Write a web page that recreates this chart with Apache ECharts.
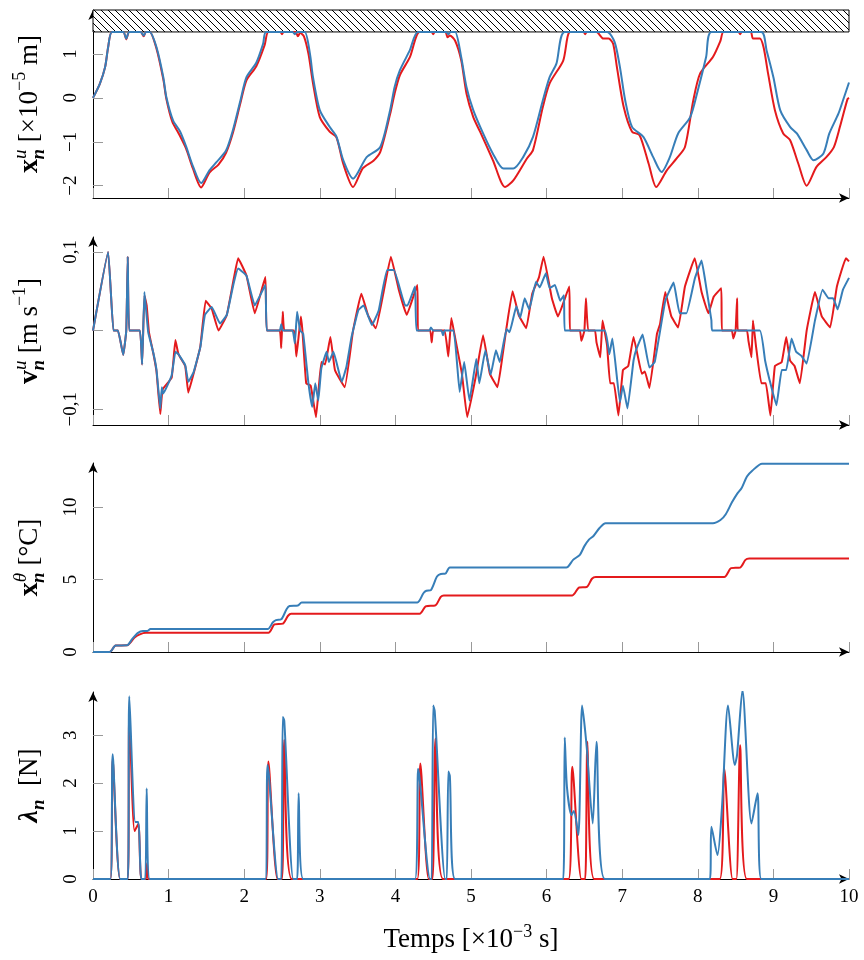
<!DOCTYPE html>
<html><head><meta charset="utf-8">
<script src="https://cdn.jsdelivr.net/npm/echarts@6/dist/echarts.min.js"></script>
<style>html,body{margin:0;padding:0;background:#fff}#c{width:864px;height:960px}</style>
</head><body><div id="c"></div><script>
// ---- data: [time (x1e-3 s), value] ----
const dispBlue = [[0,0],[0.09,0.32],[0.16,0.7],[0.2,1.15],[0.25,1.5],[0.4,1.5],[0.44,1.35],[0.48,1.5],[0.63,1.5],[0.67,1.42],[0.7,1.5],[0.75,1.5],[0.84,1.15],[0.93,0.47],[0.97,0.02],[1.06,-0.52],[1.15,-0.76],[1.23,-1.1],[1.32,-1.55],[1.43,-1.94],[1.54,-1.65],[1.63,-1.47],[1.76,-1.2],[1.85,-0.74],[1.95,-0.06],[2.03,0.47],[2.16,0.8],[2.25,1.23],[2.29,1.5],[2.64,1.5],[2.67,1.45],[2.7,1.5],[2.8,1.5],[2.87,1.0],[2.91,0.47],[3.0,-0.28],[3.13,-0.66],[3.22,-0.88],[3.31,-1.42],[3.44,-1.84],[3.62,-1.35],[3.8,-1.12],[3.93,-0.28],[3.99,0.25],[4.06,0.63],[4.19,1.08],[4.3,1.5],[4.67,1.5],[4.7,1.45],[4.73,1.5],[4.79,1.5],[4.87,0.93],[4.94,0.25],[5.03,-0.28],[5.16,-0.81],[5.29,-1.27],[5.43,-1.61],[5.56,-1.61],[5.69,-1.35],[5.82,-0.89],[5.95,-0.06],[6.04,0.47],[6.13,0.78],[6.24,1.5],[6.8,1.5],[6.9,1.27],[6.97,0.7],[7.04,-0.06],[7.13,-0.66],[7.28,-0.89],[7.41,-1.35],[7.52,-1.69],[7.63,-1.35],[7.74,-0.81],[7.9,-0.44],[8.0,0.17],[8.11,0.93],[8.18,1.5],[8.84,1.5],[8.91,1.08],[9.0,0.47],[9.09,-0.28],[9.22,-0.66],[9.31,-0.81],[9.44,-1.19],[9.53,-1.42],[9.66,-1.27],[9.74,-0.81],[9.86,-0.36],[9.92,-0.06],[10,0.35]];
const dispRed = [[0,0],[0.09,0.32],[0.16,0.7],[0.2,1.15],[0.25,1.5],[0.4,1.5],[0.44,1.33],[0.48,1.5],[0.63,1.5],[0.67,1.4],[0.7,1.5],[0.75,1.5],[0.84,1.12],[0.93,0.42],[0.97,-0.02],[1.05,-0.55],[1.13,-0.8],[1.23,-1.15],[1.32,-1.6],[1.43,-2.04],[1.54,-1.7],[1.66,-1.52],[1.76,-1.25],[1.85,-0.8],[1.95,-0.12],[2.03,0.4],[2.16,0.72],[2.27,1.2],[2.32,1.5],[2.48,1.5],[2.5,1.45],[2.52,1.5],[2.68,1.5],[2.71,1.4],[2.74,1.48],[2.79,1.4],[2.85,1.0],[2.91,0.33],[3.0,-0.44],[3.13,-0.77],[3.22,-0.9],[3.31,-1.5],[3.44,-2.03],[3.57,-1.6],[3.71,-1.43],[3.8,-1.23],[3.93,-0.37],[3.99,0.1],[4.06,0.52],[4.19,0.92],[4.32,1.5],[4.48,1.5],[4.5,1.45],[4.52,1.5],[4.66,1.5],[4.69,1.38],[4.72,1.42],[4.79,1.3],[4.87,0.86],[4.94,0.1],[5.03,-0.44],[5.12,-0.77],[5.29,-1.42],[5.45,-2.03],[5.56,-1.88],[5.74,-1.38],[5.82,-1.19],[5.95,-0.21],[6.04,0.33],[6.22,0.85],[6.31,1.5],[6.49,1.5],[6.51,1.45],[6.53,1.5],[6.66,1.5],[6.75,1.35],[6.82,1.35],[6.88,1.23],[6.93,0.7],[7.02,-0.21],[7.13,-0.77],[7.23,-0.85],[7.35,-1.5],[7.45,-2.03],[7.59,-1.65],[7.72,-1.38],[7.83,-1.12],[7.94,-0.06],[8.03,0.55],[8.2,0.93],[8.3,1.3],[8.34,1.5],[8.54,1.5],[8.56,1.45],[8.58,1.5],[8.7,1.5],[8.73,1.35],[8.82,1.35],[8.87,1.15],[8.93,0.55],[9.02,-0.28],[9.13,-0.81],[9.22,-0.96],[9.33,-1.5],[9.44,-2.0],[9.57,-1.57],[9.7,-1.35],[9.8,-1.12],[9.88,-0.66],[9.98,-0.03],[10,0.0]];

const velBlue = [[0,0],[0.2,0.1],[0.27,0],[0.33,0],[0.4,-0.031],[0.44,0],[0.46,0.094],[0.48,0],[0.62,0],[0.65,-0.043],[0.68,0.049],[0.73,-0.002],[0.8,-0.029],[0.84,-0.05],[0.89,-0.099],[0.91,-0.072],[0.93,-0.08],[1.04,-0.057],[1.09,-0.027],[1.13,-0.03],[1.22,-0.044],[1.26,-0.065],[1.33,-0.053],[1.42,-0.021],[1.48,0.02],[1.57,0.03],[1.68,0.009],[1.77,0.02],[1.86,0.06],[1.92,0.079],[2.03,0.07],[2.14,0.032],[2.28,0.058],[2.3,0],[2.47,0],[2.49,0.008],[2.51,0],[2.64,0],[2.67,-0.016],[2.7,0.024],[2.74,0],[2.78,-0.004],[2.85,-0.067],[2.9,-0.097],[2.94,-0.067],[2.98,-0.089],[3.02,-0.048],[3.09,-0.027],[3.12,-0.04],[3.18,-0.027],[3.29,-0.065],[3.35,-0.047],[3.42,-0.008],[3.51,0.026],[3.58,0.032],[3.69,0.007],[3.78,0.026],[3.89,0.077],[3.98,0.077],[4.13,0.032],[4.16,0.032],[4.26,0.056],[4.28,0],[4.45,0],[4.47,0.004],[4.5,0],[4.61,0],[4.63,-0.006],[4.65,0],[4.77,0],[4.85,-0.078],[4.91,-0.04],[4.98,-0.089],[5.07,-0.036],[5.11,-0.067],[5.19,-0.025],[5.26,-0.056],[5.33,-0.025],[5.38,-0.04],[5.47,0.002],[5.51,-0.002],[5.6,0.031],[5.65,0.016],[5.71,0.041],[5.77,0.027],[5.86,0.062],[5.91,0.055],[5.99,0.073],[6.04,0.054],[6.11,0.058],[6.18,0.038],[6.23,0.045],[6.24,0],[6.77,0],[6.83,-0.03],[6.87,-0.01],[6.97,-0.091],[7.01,-0.07],[7.07,-0.099],[7.15,-0.038],[7.19,-0.023],[7.27,-0.005],[7.36,-0.047],[7.43,-0.04],[7.57,0.038],[7.68,0.061],[7.76,0.022],[7.85,0.022],[7.96,0.066],[8.05,0.089],[8.11,0.056],[8.18,0.013],[8.19,0],[8.82,0],[8.89,-0.038],[8.95,-0.063],[9.04,-0.095],[9.11,-0.05],[9.17,-0.05],[9.24,-0.01],[9.3,-0.027],[9.37,-0.032],[9.44,-0.042],[9.55,0.013],[9.65,0.052],[9.73,0.041],[9.79,0.041],[9.85,0.027],[9.92,0.052],[10,0.067]];
const velRed = [[0,0],[0.2,0.1],[0.27,0],[0.33,0],[0.4,-0.031],[0.44,0],[0.46,0.094],[0.48,0],[0.62,0],[0.65,-0.043],[0.68,0.045],[0.71,0.032],[0.74,-0.002],[0.8,-0.03],[0.84,-0.052],[0.89,-0.106],[0.92,-0.075],[1.04,-0.06],[1.09,-0.012],[1.13,-0.03],[1.22,-0.045],[1.26,-0.079],[1.33,-0.055],[1.42,-0.02],[1.49,0.038],[1.57,0.028],[1.66,0.0],[1.77,0.02],[1.86,0.065],[1.92,0.092],[2.03,0.07],[2.14,0.022],[2.28,0.068],[2.3,0],[2.47,0],[2.49,-0.022],[2.51,0.024],[2.53,0],[2.66,0],[2.69,-0.033],[2.75,0.018],[2.77,0],[2.82,-0.067],[2.88,-0.07],[2.95,-0.11],[3.02,-0.04],[3.07,-0.043],[3.14,-0.008],[3.2,-0.05],[3.33,-0.072],[3.44,0],[3.55,0.047],[3.64,0.019],[3.74,0.003],[3.84,0.047],[3.94,0.094],[4.05,0.05],[4.15,0.02],[4.29,0.058],[4.3,0],[4.46,0],[4.48,-0.015],[4.5,0],[4.65,0],[4.7,-0.033],[4.74,0.016],[4.78,-0.004],[4.88,-0.055],[4.95,-0.11],[5.06,-0.06],[5.16,-0.006],[5.22,-0.038],[5.25,-0.055],[5.35,-0.072],[5.42,-0.03],[5.47,0.004],[5.55,0.05],[5.63,0.02],[5.73,0.003],[5.81,0.047],[5.9,0.068],[5.96,0.094],[6.07,0.041],[6.15,0.018],[6.3,0.056],[6.31,0],[6.44,0],[6.46,-0.013],[6.5,0],[6.52,0.041],[6.55,0],[6.64,0],[6.66,-0.015],[6.71,-0.034],[6.74,0.013],[6.8,-0.019],[6.84,-0.067],[6.89,-0.067],[6.95,-0.108],[7.01,-0.05],[7.08,-0.045],[7.15,-0.008],[7.21,-0.034],[7.26,-0.055],[7.3,-0.052],[7.36,-0.073],[7.46,-0.004],[7.5,0.008],[7.57,0.049],[7.65,0.018],[7.74,0.004],[7.83,0.056],[7.96,0.092],[8.05,0.049],[8.14,0.022],[8.21,0.043],[8.31,0.054],[8.32,0],[8.45,0],[8.47,-0.01],[8.5,0],[8.52,0.041],[8.53,0],[8.65,0],[8.67,-0.013],[8.71,-0.034],[8.73,0.013],[8.77,-0.02],[8.84,-0.067],[8.9,-0.067],[8.96,-0.108],[9.02,-0.045],[9.11,-0.04],[9.17,-0.008],[9.22,-0.038],[9.28,-0.045],[9.35,-0.067],[9.44,0],[9.55,0.049],[9.64,0.018],[9.75,0.004],[9.84,0.056],[9.96,0.092],[10,0.088]];

const tempBlue = [[0,0],[0.22,0],[0.3,0.45],[0.45,0.46],[0.52,0.9],[0.59,1.3],[0.66,1.45],[0.72,1.45],[0.76,1.58],[2.31,1.58],[2.38,2.05],[2.42,2.2],[2.49,2.25],[2.56,2.95],[2.6,3.17],[2.71,3.2],[2.76,3.42],[4.29,3.42],[4.37,4.05],[4.41,4.22],[4.47,4.27],[4.55,5.2],[4.6,5.38],[4.66,5.4],[4.72,5.82],[6.26,5.82],[6.35,6.35],[6.44,6.7],[6.5,7.3],[6.56,7.75],[6.62,8.0],[6.7,8.55],[6.78,8.88],[8.2,8.88],[8.3,9.1],[8.37,9.5],[8.45,10.3],[8.52,10.9],[8.58,11.3],[8.65,12.1],[8.72,12.5],[8.85,12.98],[10,12.98]];
const tempRed = [[0,0],[0.22,0],[0.3,0.45],[0.45,0.46],[0.55,1.0],[0.62,1.22],[0.7,1.32],[2.32,1.32],[2.4,1.9],[2.51,1.95],[2.58,2.5],[2.62,2.64],[4.32,2.64],[4.4,3.15],[4.53,3.22],[4.6,3.8],[4.64,3.9],[6.34,3.9],[6.43,4.45],[6.53,4.48],[6.6,5.05],[6.65,5.17],[8.35,5.17],[8.44,5.78],[8.56,5.82],[8.63,6.35],[8.68,6.44],[10,6.44]];

const lamBlue = [[0,0],[0.23,0],[0.26,2.6],[0.36,0],[0.46,0],[0.48,3.81],[0.56,1.19],[0.6,1.19],[0.64,0],[0.69,0],[0.71,1.89],[0.75,0],[2.28,0],[2.31,2.38],[2.45,0],[2.49,0],[2.51,3.38],[2.53,3.3],[2.65,0],[2.7,0],[2.72,1.79],[2.78,0],[4.26,0],[4.3,2.3],[4.32,2.1],[4.46,0],[4.48,0],[4.5,3.62],[4.52,3.5],[4.66,0],[4.68,0],[4.7,2.24],[4.72,2.15],[4.79,0],[6.22,0],[6.24,2.95],[6.27,1.9],[6.33,1.33],[6.36,1.42],[6.42,0.92],[6.47,3.62],[6.53,2.76],[6.61,1.16],[6.66,2.86],[6.77,0],[8.16,0],[8.18,1.09],[8.26,0.5],[8.32,1.5],[8.4,3.62],[8.49,2.38],[8.52,2.6],[8.59,3.94],[8.71,1.16],[8.79,1.79],[8.84,0],[10,0]];
const lamRed = [[0,0],[0.23,0],[0.26,2.5],[0.36,0],[0.46,0],[0.48,3.46],[0.55,1.0],[0.6,1.15],[0.64,0],[0.7,0],[0.715,0.33],[0.73,0],[2.29,0],[2.32,2.45],[2.44,0],[2.5,0],[2.53,2.9],[2.63,0],[4.29,0],[4.33,2.41],[4.44,0],[4.49,0],[4.53,2.93],[4.63,0],[6.29,0],[6.34,2.34],[6.46,0],[6.51,0],[6.54,2.86],[6.63,0],[8.29,0],[8.35,2.3],[8.46,0],[8.51,0],[8.56,2.79],[8.65,0],[10,0]];

const xTicks = [0,1,2,3,4,5,6,7,8,9,10];
const dispTicks = [-2,-1,0,1];
const velTicks = [-0.1,0,0.1];
const tempTicks = [0,5,10];
const lamTicks = [0,1,2,3];
const obstacleGap = 1.5;
const obstacleTop = 2.0;

const RED = '#e41a1c', BLUE = '#377eb8';
const FONT = 'Liberation Serif';

function hatchCanvas(){
  const s = 7, c = document.createElement('canvas');
  c.width = s; c.height = s;
  const g = c.getContext('2d');
  g.fillStyle = '#fff'; g.fillRect(0,0,s,s);
  g.strokeStyle = '#000'; g.lineWidth = 1;
  g.beginPath();
  g.moveTo(-1,-1); g.lineTo(s+1,s+1);
  g.moveTo(-1,s-1); g.lineTo(1,s+1);
  g.moveTo(s-1,-1); g.lineTo(s+1,1);
  g.stroke();
  return c;
}

const grids = [
  {left:93, width:756, top:10, height:188},
  {left:93, width:756, top:237, height:188},
  {left:93, width:756, top:463, height:189},
  {left:93, width:756, top:692, height:187}
];

function xAx(i, last){
  return {
    gridIndex:i, type:'value', min:0, max:10, interval:1,
    axisLine:{onZero:false, lineStyle:{color:'#000', width:1}, symbol:['none','arrow'], symbolSize:[7,10]},
    axisTick:{inside:true, length:10, customValues:xTicks, lineStyle:{color:'#999', width:1}},
    axisLabel:{show:last, customValues:xTicks, fontFamily:FONT, fontSize:19, color:'#000', margin:9},
    splitLine:{show:false},
    name: last ? 'Temps [×10{sup|−3} s]' : '',
    nameLocation:'middle', nameGap:44,
    nameTextStyle:{fontFamily:FONT, fontSize:27, color:'#000', lineHeight:34,
      rich:{sup:{fontFamily:FONT, fontSize:18, verticalAlign:'top', lineHeight:34, color:'#000'}}}
  };
}

const nameRich = {
  b:{fontFamily:FONT, fontSize:28, fontWeight:'bold', lineHeight:38, color:'#000'},
  bl:{fontFamily:FONT, fontSize:28, fontWeight:'bold', fontStyle:'italic', lineHeight:38, color:'#000'},
  sup:{fontFamily:FONT, fontSize:19, fontStyle:'italic', verticalAlign:'top', lineHeight:38, color:'#000'},
  sub:{fontFamily:FONT, fontSize:19, fontStyle:'italic', fontWeight:'bold', verticalAlign:'bottom', lineHeight:38, color:'#000', padding:[0,0,0,-10]},
  sub2:{fontFamily:FONT, fontSize:19, fontStyle:'italic', fontWeight:'bold', verticalAlign:'bottom', lineHeight:38, color:'#000'},
  t:{fontFamily:FONT, fontSize:27, lineHeight:38, color:'#000'},
  e:{fontFamily:FONT, fontSize:18, verticalAlign:'top', lineHeight:38, color:'#000'}
};

function yAx(i, min, max, ticks, name, fmt){
  return {
    gridIndex:i, type:'value', min:min, max:max,
    axisLine:{show:true, lineStyle:{color:'#000', width:1}, symbol:['none','arrow'], symbolSize:[7,10]},
    axisTick:{inside:true, length:10, customValues:ticks, lineStyle:{color:'#999', width:1}},
    axisLabel:{customValues:ticks, rotate:90, fontFamily:FONT, fontSize:19, color:'#000', margin:12,
      formatter: fmt},
    splitLine:{show:false},
    name:name, nameLocation:'middle', nameRotate:90, nameGap:44,
    nameTextStyle:{fontFamily:FONT, fontSize:27, color:'#000', rich:nameRich}
  };
}

const minusFmt = v => (v < 0 ? '−' : '') + Math.abs(v);
const velFmt = v => v === 0 ? '0' : (v < 0 ? '−' : '') + String(Math.abs(v)).replace('.', ',');

function line(data, color, xi, extra){
  return Object.assign({
    type:'line', data:data, xAxisIndex:xi, yAxisIndex:xi,
    showSymbol:false, symbol:'none', smooth:0.25,
    lineStyle:{color:color, width:2}, itemStyle:{color:color},
    z: color === BLUE ? 4 : 3
  }, extra || {});
}

const chart = echarts.init(document.getElementById('c'), null, {renderer:'canvas'});
chart.setOption({
  animation:false,
  backgroundColor:'#fff',
  grid:grids,
  xAxis:[xAx(0,false), xAx(1,false), xAx(2,false), xAx(3,true)],
  yAxis:[
    yAx(0, -2.28, obstacleTop, dispTicks, '{b|x}{sup|u}{sub|n} {t|[×10}{e|−5}{t| m]}', minusFmt),
    yAx(1, -0.12, 0.119, velTicks, '{b|v}{sup|u}{sub|n} {t|[m s}{e|−1}{t|]}', velFmt),
    yAx(2, 0, 13.03, tempTicks, '{b|x}{sup|θ}{sub|n} {t|[°C]}', minusFmt),
    yAx(3, 0, 3.9, lamTicks, '{bl|λ}{sub2|n} {t| [N]}', minusFmt)
  ],
  series:[
    line(dispRed, RED, 0, {
      markArea:{silent:true, z:1,
        itemStyle:{color:{image:hatchCanvas(), repeat:'repeat'}, borderColor:'#000', borderWidth:1, opacity:1},
        data:[[{xAxis:0, yAxis:obstacleGap}, {xAxis:10, yAxis:obstacleTop}]]}
    }),
    line(dispBlue, BLUE, 0),
    line(velRed, RED, 1, {smooth:0.1}),
    line(velBlue, BLUE, 1, {smooth:0.1}),
    line(tempRed, RED, 2),
    line(tempBlue, BLUE, 2),
    line(lamRed, RED, 3),
    line(lamBlue, BLUE, 3)
  ]
});
</script></body></html>
